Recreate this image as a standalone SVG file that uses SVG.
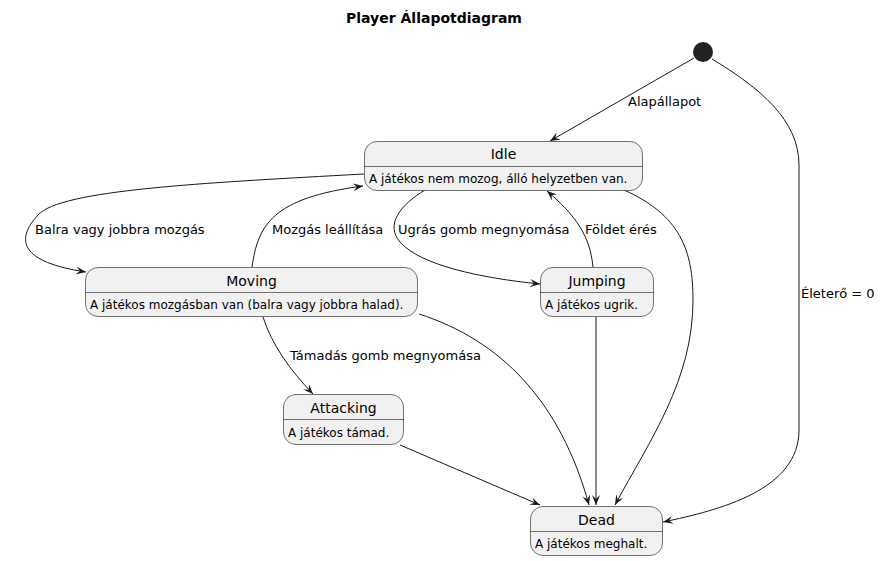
<svg xmlns="http://www.w3.org/2000/svg" width="880" height="561" viewBox="0 0 880 561">
<defs>
<style>
text{font-family:"DejaVu Sans","Noto Sans",sans-serif;fill:#000}
.title{font-size:14px;font-weight:bold;text-anchor:middle}
.name{font-size:14px;text-anchor:middle}
.desc{font-size:12px}
.lbl{font-size:13px}
.box{fill:#F1F1F1;stroke:#181818;stroke-width:0.6}
.div{stroke:#181818;stroke-width:0.6}
.edge{fill:none;stroke:#181818;stroke-width:1;marker-end:url(#arr)}
</style>
<marker id="arr" viewBox="0 0 10 8" refX="10" refY="4" markerWidth="10" markerHeight="8" markerUnits="userSpaceOnUse" orient="auto">
<path d="M0,0 L10,4 L0,8 L4,4 Z" fill="#181818"/>
</marker>
</defs>
<rect width="880" height="561" fill="#fff"/>
<text class="title" x="434" y="23">Player Állapotdiagram</text>

<g id="connectors">
<path class="edge" d="M694,58 L550,141"/>
<path class="edge" d="M712,59 C760,88 799,120 799,165 L799,430 C799,490 720,510 663,522"/>
<path class="edge" d="M364,174 C200,183 60,190 38,215 C15,240 20,262 86,272"/>
<path class="edge" d="M252,267 C258,225 272,198 363,186"/>
<path class="edge" d="M425,190 C400,205 385,225 400,242 C420,265 480,278 540,284"/>
<path class="edge" d="M593,267 C590,235 575,215 547,191"/>
<path class="edge" d="M624,190 C680,215 693,250 693,300 C693,380 650,440 615,505"/>
<path class="edge" d="M596,317 L596,505"/>
<path class="edge" d="M419,314 C500,340 560,400 589,505"/>
<path class="edge" d="M263,317 C272,345 290,370 313,394"/>
<path class="edge" d="M400,445 L540,505"/>
<text class="lbl" x="628" y="106">Alapállapot</text>
<text class="lbl" x="801" y="298">Életerő = 0</text>
<text class="lbl" x="35" y="234">Balra vagy jobbra mozgás</text>
<text class="lbl" x="272" y="234">Mozgás leállítása</text>
<text class="lbl" x="398" y="234">Ugrás gomb megnyomása</text>
<text class="lbl" x="585" y="234">Földet érés</text>
<text class="lbl" x="290" y="360">Támadás gomb megnyomása</text>
</g>

<g id="start"><circle cx="703" cy="52" r="10" fill="#222"/></g>

<g id="idle">
<rect class="box" x="364.5" y="141.5" width="278" height="49" rx="12.5"/>
<line class="div" x1="364.5" y1="166.5" x2="642.5" y2="166.5"/>
<text class="name" x="503.5" y="159">Idle</text>
<text class="desc" x="369" y="183">A játékos nem mozog, álló helyzetben van.</text>
</g>

<g id="moving">
<rect class="box" x="85.5" y="267.5" width="332" height="49" rx="12.5"/>
<line class="div" x1="85.5" y1="292.5" x2="417.5" y2="292.5"/>
<text class="name" x="251.5" y="286">Moving</text>
<text class="desc" x="90" y="309">A játékos mozgásban van (balra vagy jobbra halad).</text>
</g>

<g id="jumping">
<rect class="box" x="540.5" y="267.5" width="113" height="49" rx="12.5"/>
<line class="div" x1="540.5" y1="292.5" x2="653.5" y2="292.5"/>
<text class="name" x="597" y="286">Jumping</text>
<text class="desc" x="545" y="309">A játékos ugrik.</text>
</g>

<g id="attacking">
<rect class="box" x="283.5" y="394.5" width="120" height="50" rx="12.5"/>
<line class="div" x1="283.5" y1="419.5" x2="403.5" y2="419.5"/>
<text class="name" x="343.5" y="413">Attacking</text>
<text class="desc" x="288" y="437">A játékos támad.</text>
</g>

<g id="dead">
<rect class="box" x="530.5" y="506.5" width="132" height="49" rx="12.5"/>
<line class="div" x1="530.5" y1="531.5" x2="662.5" y2="531.5"/>
<text class="name" x="596.5" y="525">Dead</text>
<text class="desc" x="535" y="548">A játékos meghalt.</text>
</g>
</svg>
